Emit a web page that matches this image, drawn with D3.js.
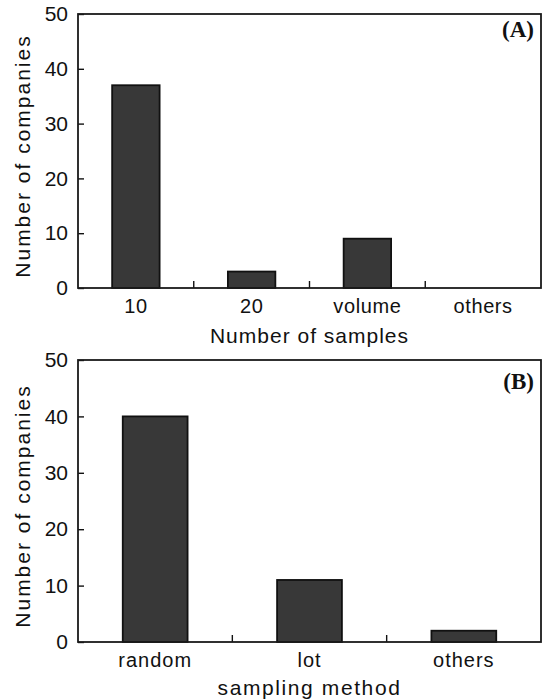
<!DOCTYPE html>
<html>
<head>
<meta charset="utf-8">
<script src="https://cdn.jsdelivr.net/npm/d3@7"></script>
<style>
  body { margin: 0; background: #fff; }
  text { font-family: "Liberation Sans", Arial, sans-serif; fill: #111; }
  .panel-tag { font-family: "Liberation Serif", "Times New Roman", serif; font-weight: bold; }
</style>
</head>
<body>
<div class="chart"></div>
<script>
// === Data ===
const sampleCategories = ["10", "20", "volume", "others"];
const sampleCounts = [37, 3, 9, 0];

const methodCategories = ["random", "lot", "others"];
const methodCounts = [40, 11, 2];

const yTickValues = [0, 10, 20, 30, 40, 50];

// === SVG ===
const svg = d3.select(".chart").append("svg")
    .attr("width", 544)
    .attr("height", 700);

// === Panel drawing ===
function drawPanel(cfg) {
    const width = cfg.right - cfg.left,
          height = cfg.bottom - cfg.top;

    const g = svg.append("g")
        .attr("transform", `translate(${cfg.left},${cfg.top})`);

    const xScale = d3.scaleBand()
        .domain(cfg.categories)
        .range([0, width])
        .paddingInner(0)
        .paddingOuter(0);

    const yScale = d3.scaleLinear()
        .domain([0, 50])
        .range([height, 0]);

    // bars
    const barW = xScale.bandwidth() * cfg.barRatio;
    g.selectAll(".bar")
        .data(cfg.categories.map((c, i) => ({cat: c, value: cfg.values[i]})))
        .enter()
        .append("rect")
        .attr("class", "bar")
        .attr("x", d => xScale(d.cat) + (xScale.bandwidth() - barW) / 2)
        .attr("y", d => yScale(d.value))
        .attr("width", barW)
        .attr("height", d => height - yScale(d.value))
        .attr("fill", "#383838")
        .attr("stroke", "#111")
        .attr("stroke-width", 1.8)
        .attr("display", d => d.value > 0 ? null : "none");

    // y axis (ticks pointing inward)
    const yAxis = d3.axisLeft(yScale)
        .tickValues(yTickValues)
        .tickSizeInner(-6)
        .tickSizeOuter(0)
        .tickPadding(10);
    const yAxisG = g.append("g").call(yAxis);
    yAxisG.select(".domain").remove();
    yAxisG.selectAll("line").attr("stroke", "#111").attr("stroke-width", 1.4);
    yAxisG.selectAll("text")
        .attr("font-size", 21)
        .attr("font-family", "Liberation Sans, Arial, sans-serif")
        .attr("fill", "#111");

    // x axis labels
    const xAxis = d3.axisBottom(xScale).tickSize(0);
    const xAxisG = g.append("g")
        .attr("transform", `translate(0,${height})`)
        .call(xAxis);
    xAxisG.select(".domain").remove();
    xAxisG.selectAll("text")
        .attr("y", cfg.tickLabelY)
        .attr("dy", 0)
        .attr("font-size", 20)
        .attr("letter-spacing", cfg.tickSpacing)
        .attr("font-family", "Liberation Sans, Arial, sans-serif")
        .attr("fill", "#111");

    // boundary ticks between categories, pointing up
    g.selectAll(".sep")
        .data(cfg.categories.slice(1))
        .enter()
        .append("line")
        .attr("x1", d => xScale(d))
        .attr("x2", d => xScale(d))
        .attr("y1", height)
        .attr("y2", height - 7)
        .attr("stroke", "#111")
        .attr("stroke-width", 1.4);

    // frame
    g.append("rect")
        .attr("width", width)
        .attr("height", height)
        .attr("fill", "none")
        .attr("stroke", "#1a1a1a")
        .attr("stroke-width", 1.8);

    // axis titles
    g.append("text")
        .attr("x", width / 2)
        .attr("y", height + cfg.titleY)
        .attr("text-anchor", "middle")
        .attr("font-size", 21)
        .attr("letter-spacing", cfg.titleSpacing)
        .text(cfg.xTitle);

    g.append("text")
        .attr("transform", `translate(${30 - cfg.left},${height / 2 + 5}) rotate(-90)`)
        .attr("text-anchor", "middle")
        .attr("font-size", 21)
        .attr("letter-spacing", 2)
        .text("Number of companies");

    // panel tag
    g.append("text")
        .attr("class", "panel-tag")
        .attr("x", width - 7)
        .attr("y", cfg.tagY)
        .attr("text-anchor", "end")
        .attr("font-size", 23)
        .text(cfg.tag);
}

drawPanel({
    left: 78, right: 541, top: 14, bottom: 288,
    categories: sampleCategories, values: sampleCounts,
    barRatio: 0.41, tickLabelY: 25, tickSpacing: 0.6,
    xTitle: "Number of samples", titleY: 55, titleSpacing: 1,
    tag: "(A)", tagY: 23
});

drawPanel({
    left: 78, right: 541, top: 360, bottom: 642,
    categories: methodCategories, values: methodCounts,
    barRatio: 0.42, tickLabelY: 25, tickSpacing: 1,
    xTitle: "sampling method", titleY: 53, titleSpacing: 1.6,
    tag: "(B)", tagY: 29
});
</script>
</body>
</html>
